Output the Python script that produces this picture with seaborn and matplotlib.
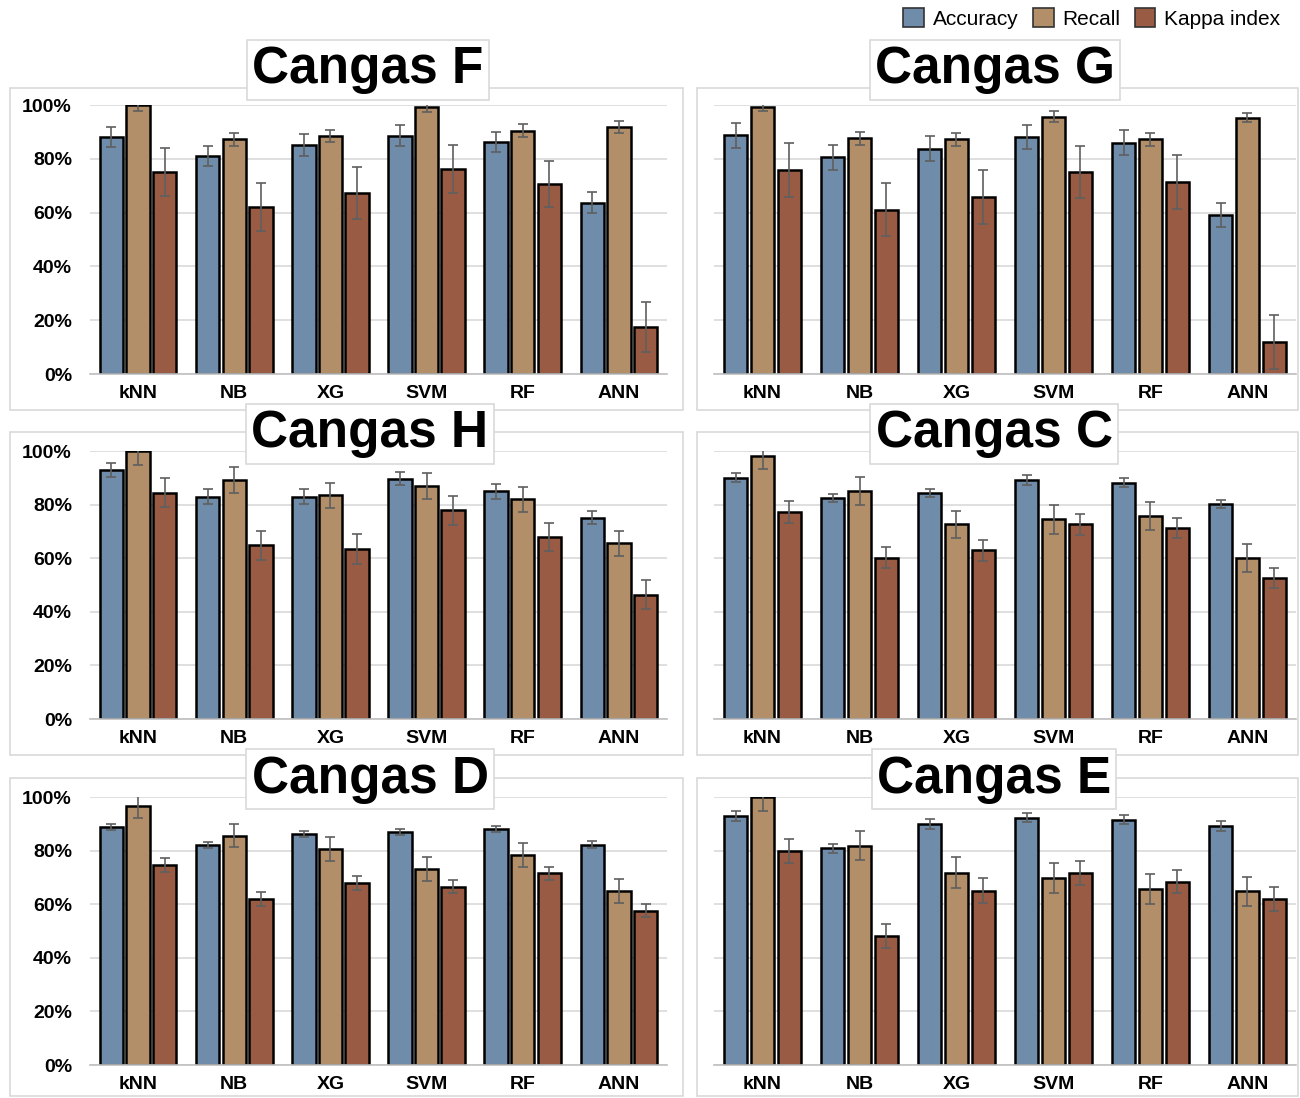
import matplotlib
matplotlib.use("Agg")
import matplotlib.pyplot as plt
import matplotlib.patches as mpatches
import seaborn as sns
import pandas as pd
import numpy as np

models = ["kNN", "NB", "XG", "SVM", "RF", "ANN"]
metrics = ["Accuracy", "Recall", "Kappa index"]
colors = ["#6F8CAB", "#B28E69", "#995B44"]

# Cangas F
F_acc = [88.2, 81.0, 85.1, 88.6, 86.4, 63.7]
F_acc_sd = [3.8, 3.8, 4.2, 4.0, 3.7, 3.8]
F_rec = [100.0, 87.2, 88.6, 99.4, 90.5, 91.7]
F_rec_sd = [2.3, 2.3, 2.2, 1.9, 2.3, 2.2]
F_kap = [75.1, 62.1, 67.4, 76.3, 70.5, 17.6]
F_kap_sd = [9.0, 9.0, 9.6, 9.0, 8.6, 9.3]
# Cangas G
G_acc = [88.7, 80.5, 83.8, 88.2, 86.0, 59.1]
G_acc_sd = [4.7, 4.5, 4.5, 4.5, 4.7, 4.6]
G_rec = [99.4, 87.6, 87.2, 95.7, 87.2, 95.2]
G_rec_sd = [1.7, 2.3, 2.3, 2.1, 2.3, 1.7]
G_kap = [75.8, 61.1, 65.9, 75.0, 71.4, 11.8]
G_kap_sd = [10.1, 9.8, 10.0, 9.7, 10.0, 10.0]
# Cangas H
H_acc = [92.9, 83.0, 83.0, 89.7, 84.9, 75.1]
H_acc_sd = [2.6, 2.7, 2.7, 2.5, 2.7, 2.4]
H_rec = [99.9, 89.2, 83.4, 87.0, 82.0, 65.5]
H_rec_sd = [5.0, 4.7, 4.8, 4.8, 4.7, 4.5]
H_kap = [84.5, 64.8, 63.4, 77.8, 67.9, 46.4]
H_kap_sd = [5.3, 5.3, 5.5, 5.4, 5.3, 5.4]
# Cangas C
C_acc = [90.1, 82.5, 84.4, 89.2, 88.2, 80.2]
C_acc_sd = [1.8, 1.4, 1.5, 1.9, 1.6, 1.6]
C_rec = [98.1, 85.1, 72.6, 74.5, 75.7, 60.1]
C_rec_sd = [5.0, 5.1, 5.1, 5.3, 5.2, 5.2]
C_kap = [77.2, 60.2, 62.9, 72.6, 71.4, 52.6]
C_kap_sd = [4.0, 4.0, 3.8, 3.9, 3.7, 3.7]
# Cangas D
D_acc = [88.8, 82.1, 86.2, 87.0, 88.0, 82.1]
D_acc_sd = [1.0, 1.0, 1.0, 1.0, 1.1, 1.3]
D_rec = [96.8, 85.5, 80.6, 73.0, 78.4, 65.0]
D_rec_sd = [4.6, 4.3, 4.5, 4.5, 4.5, 4.5]
D_kap = [74.6, 62.0, 67.9, 66.5, 71.5, 57.6]
D_kap_sd = [2.6, 2.6, 2.6, 2.5, 2.5, 2.5]
# Cangas E
E_acc = [92.8, 80.8, 90.0, 92.3, 91.6, 89.1]
E_acc_sd = [1.9, 1.8, 1.9, 1.7, 1.8, 1.9]
E_rec = [100.0, 81.9, 71.8, 69.6, 65.8, 64.8]
E_rec_sd = [5.2, 5.5, 5.7, 5.6, 5.6, 5.4]
E_kap = [79.8, 48.1, 65.1, 71.8, 68.3, 61.8]
E_kap_sd = [4.4, 4.5, 4.7, 4.5, 4.3, 4.5]

panels = [
    ("Cangas F", F_acc, F_rec, F_kap, F_acc_sd, F_rec_sd, F_kap_sd),
    ("Cangas G", G_acc, G_rec, G_kap, G_acc_sd, G_rec_sd, G_kap_sd),
    ("Cangas H", H_acc, H_rec, H_kap, H_acc_sd, H_rec_sd, H_kap_sd),
    ("Cangas C", C_acc, C_rec, C_kap, C_acc_sd, C_rec_sd, C_kap_sd),
    ("Cangas D", D_acc, D_rec, D_kap, D_acc_sd, D_rec_sd, D_kap_sd),
    ("Cangas E", E_acc, E_rec, E_kap, E_acc_sd, E_rec_sd, E_kap_sd),
]

sns.set_theme(style="white")
FONT = ["Liberation Sans Narrow", "Liberation Sans", "DejaVu Sans"]
plt.rcParams["font.family"] = FONT
plt.rcParams["text.color"] = "black"
plt.rcParams["xtick.color"] = "black"
plt.rcParams["ytick.color"] = "black"

W, H = 1300, 1098
fig = plt.figure(figsize=(W / 100, H / 100), dpi=100)
fig.patch.set_facecolor("white")

def fx(px):
    return px / W

def fy(py):
    return 1 - py / H

# panel frames (px)
col_frames = [(10, 683), (697, 1298)]
row_frames = [(88, 410), (432, 755), (778, 1096)]
for (x0, x1) in col_frames:
    for (y0, y1) in row_frames:
        fig.patches.append(mpatches.Rectangle((fx(x0), fy(y1)), fx(x1 - x0), (y1 - y0) / H,
                                              transform=fig.transFigure, fill=False,
                                              edgecolor="#d9d9d9", lw=1.2, zorder=0))

col_axes = [(90, 667), (714, 1296)]
row_axes = [(105, 374), (451, 719), (797, 1065)]
title_pos = [(368, 70), (995, 70), (370, 434), (994, 434), (370, 779), (994, 779)]

for i, (name, acc, rec, kap, acc_sd, rec_sd, kap_sd) in enumerate(panels):
    r, c = divmod(i, 2)
    x0, x1 = col_axes[c]
    y0, y1 = row_axes[r]
    ax = fig.add_axes([fx(x0), fy(y1), fx(x1 - x0), (y1 - y0) / H])
    df = pd.DataFrame({
        "model": models * 3,
        "metric": [metrics[0]] * 6 + [metrics[1]] * 6 + [metrics[2]] * 6,
        "value": acc + rec + kap,
    })
    sns.barplot(data=df, x="model", y="value", hue="metric", order=models,
                hue_order=metrics, palette=colors, errorbar=None, width=0.83,
                gap=0.12, edgecolor="black", linewidth=1.8, ax=ax, legend=False,
                saturation=1, zorder=3)
    sds = [acc_sd, rec_sd, kap_sd]
    bar_conts = list(ax.containers)
    for k, cont in enumerate(bar_conts):
        xs = [b.get_x() + b.get_width() / 2 for b in cont]
        hs = [b.get_height() for b in cont]
        ax.errorbar(xs, hs, yerr=sds[k], fmt="none", ecolor="#5f5f5f",
                    elinewidth=1.2, capsize=3.5, capthick=1.2, zorder=4)
    ax.set_ylim(0, 100)
    ax.set_xlim(-0.5, 5.5)
    ax.set_yticks([0, 20, 40, 60, 80, 100])
    ax.yaxis.grid(True, color="#d9d9d9", lw=1.2, zorder=0)
    ax.set_axisbelow(True)
    for s in ["top", "right", "left"]:
        ax.spines[s].set_visible(False)
    ax.spines["bottom"].set_color("#bfbfbf")
    ax.spines["bottom"].set_linewidth(1.2)
    ax.spines["bottom"].set_zorder(5)
    ax.set_xlabel("")
    ax.set_ylabel("")
    ax.set_xticks(range(6))
    ax.set_xticklabels(models, fontsize=14, fontweight="bold", family=FONT, color="black")
    ax.set_xticks(np.arange(-0.5, 6.0, 1.0), minor=True)
    ax.tick_params(axis="x", which="major", length=0, pad=8)
    ax.tick_params(axis="x", which="minor", length=6, color="#bfbfbf", width=1.2)
    if c == 0:
        ax.set_yticklabels([f"{v}%" for v in [0, 20, 40, 60, 80, 100]],
                           fontsize=14, fontweight="bold", family=FONT, color="black")
        ax.tick_params(axis="y", length=0, pad=13)
    else:
        ax.set_yticklabels([])
        ax.tick_params(axis="y", length=0)
    tx, ty = title_pos[i]
    fig.text(fx(tx), fy(ty), name, ha="center", va="center", fontsize=37,
             fontweight="bold", family=FONT, color="black",
             bbox=dict(boxstyle="square,pad=0.1", facecolor="white",
                       edgecolor="#d9d9d9", lw=1.2))

handles = [mpatches.Patch(facecolor=colors[k], edgecolor="#333333", lw=1.2, label=metrics[k])
           for k in range(3)]
leg = fig.legend(handles=handles, loc="upper right", bbox_to_anchor=(fx(1284), fy(4)),
                 ncol=3, frameon=False, handlelength=1.0, handleheight=1.0,
                 handletextpad=0.4, columnspacing=0.7, borderaxespad=0, borderpad=0.2,
                 prop=dict(family=FONT, size=15))
for t in leg.get_texts():
    t.set_color("black")

fig.savefig("out.png", dpi=100)
